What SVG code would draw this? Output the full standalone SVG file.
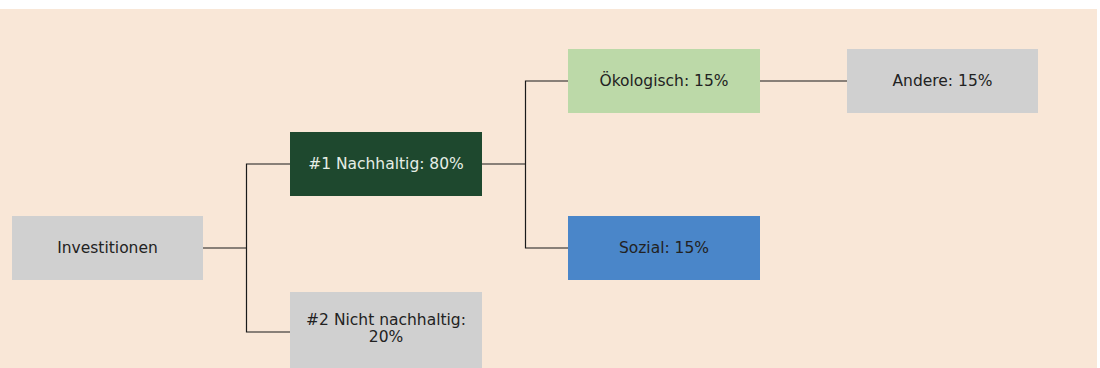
<svg xmlns="http://www.w3.org/2000/svg" width="1100" height="368" viewBox="0 0 1100 368">
<style>
.box{stroke:none}
.gray{fill:#D0D0D0}
.t{font-family:"DejaVu Sans",Verdana,sans-serif;font-size:15.5px;text-anchor:middle;fill:#222}
.tl{fill:#E6EEE6}
.c{fill:none;stroke:#1a1a1a;stroke-width:1.2}
</style>
<rect x="0" y="9" width="1097" height="359" fill="#F9E7D7"/>
<g id="connectors">
<polyline class="c" points="203,248 246.5,248"/>
<polyline class="c" points="290,164 246.5,164 246.5,332 290,332"/>
<polyline class="c" points="482,164 525.5,164"/>
<polyline class="c" points="568,81 525.5,81 525.5,248 568,248"/>
<polyline class="c" points="760,81 847,81"/>
</g>
<g id="investitionen">
<rect class="box gray" x="12" y="216" width="191" height="64"/>
<text class="t" x="107.5" y="252.5">Investitionen</text>
</g>
<g id="nachhaltig">
<rect class="box" x="290" y="132" width="192" height="64" fill="#1E482E"/>
<text class="t tl" x="386" y="168.5">#1 Nachhaltig: 80%</text>
</g>
<g id="nicht-nachhaltig">
<rect class="box gray" x="290" y="292" width="192" height="80"/>
<text class="t" x="386" y="325">#2 Nicht nachhaltig:</text>
<text class="t" x="386" y="342">20%</text>
</g>
<g id="oekologisch">
<rect class="box" x="568" y="49" width="192" height="64" fill="#BCD9A8"/>
<text class="t" x="664" y="85.5">Ökologisch: 15%</text>
</g>
<g id="sozial">
<rect class="box" x="568" y="216" width="192" height="64" fill="#4A86C9"/>
<text class="t" x="664" y="252.5">Sozial: 15%</text>
</g>
<g id="andere">
<rect class="box gray" x="847" y="49" width="191" height="64"/>
<text class="t" x="942.5" y="85.5">Andere: 15%</text>
</g>
</svg>
